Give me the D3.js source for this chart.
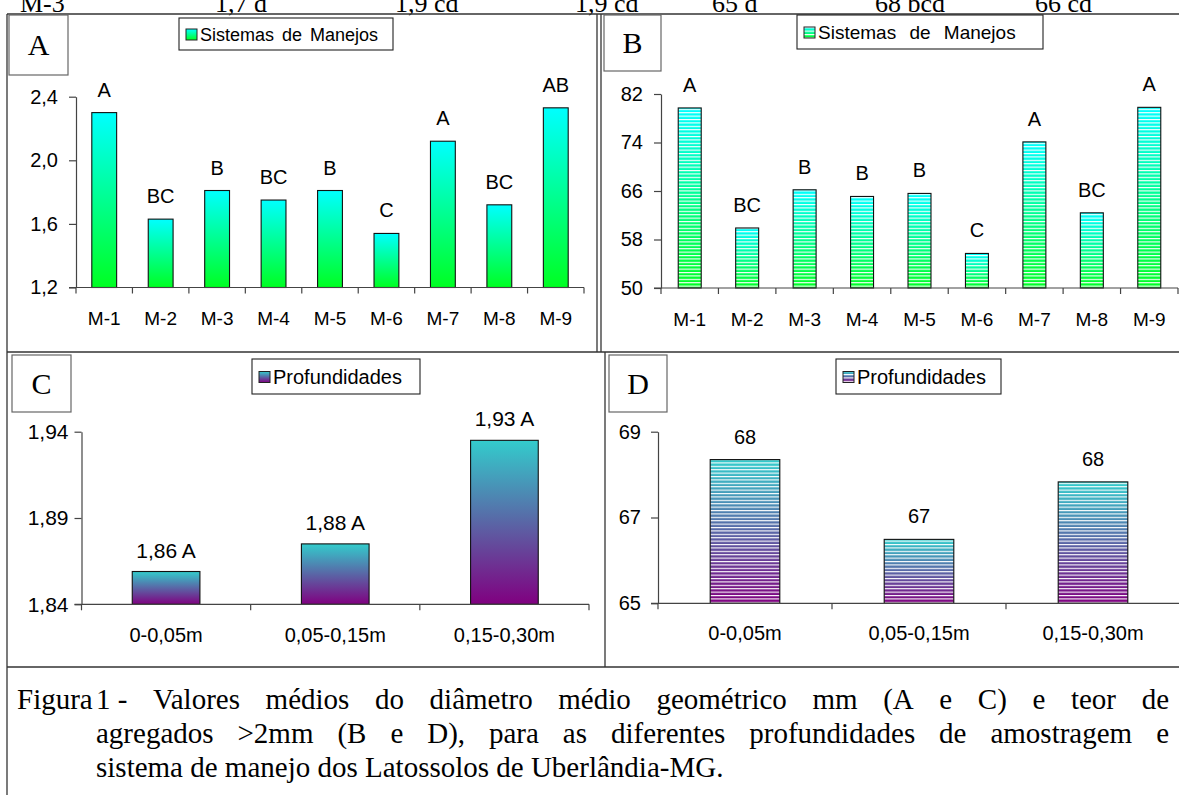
<!DOCTYPE html>
<html><head><meta charset="utf-8">
<script src="https://cdn.jsdelivr.net/npm/d3@7"></script>
<style>body{margin:0;background:#fff}svg{display:block}</style>
</head><body>
<svg id="c" width="1179" height="795"></svg>
<script>
// ---------- data ----------
const manejos = ["M-1","M-2","M-3","M-4","M-5","M-6","M-7","M-8","M-9"];
const dmgManejo = [2.30,1.63,1.81,1.75,1.81,1.54,2.12,1.72,2.33];
const dmgManejoLetras = ["A","BC","B","BC","B","C","A","BC","AB"];
const agrManejo = [79.7,59.9,66.2,65.1,65.6,55.7,74.1,62.4,79.8];
const agrManejoLetras = ["A","BC","B","B","B","C","A","BC","A"];
const profundidades = ["0-0,05m","0,05-0,15m","0,15-0,30m"];
const dmgProf = [1.859,1.875,1.935];
const dmgProfRotulos = ["1,86 A","1,88 A","1,93 A"];
const agrProf = [68.35,66.49,67.83];
const agrProfRotulos = ["68","67","68"];
const ticksA = [1.2,1.6,2.0,2.4];
const ticksB = [50,58,66,74,82];
const ticksC = [1.84,1.89,1.94];
const ticksD = [65,67,69];
const topoTextos = ["M-3","1,7 d","1,9 cd","1,9 cd","65 d","68 bcd","66 cd"];
const legendaManejo = "Sistemas de Manejos";
const legendaProf = "Profundidades";
const legendaLinha1a = "Figura";
const legendaLinha1b = "1\u00a0- Valores médios do diâmetro médio geométrico mm (A e C) e teor de";
const legendaLinha2 = "agregados >2mm (B e D), para as diferentes profundidades de amostragem e";
const legendaLinha3 = "sistema de manejo dos Latossolos de Uberlândia-MG.";

// ---------- setup ----------
const svg = d3.select("#c");
const SANS = "'Liberation Sans', Arial, sans-serif";
const SERIF = "'Liberation Serif', 'Times New Roman', serif";
const defs = svg.append("defs");
function vgrad(id, top, bot){
  const g = defs.append("linearGradient").attr("id",id).attr("x1",0).attr("y1",0).attr("x2",0).attr("y2",1);
  g.append("stop").attr("offset","0%").attr("stop-color",top);
  g.append("stop").attr("offset","100%").attr("stop-color",bot);
}
vgrad("gGreen","#00ffff","#00ff22");
vgrad("gPurple","#33cccc","#800080");
const pat = defs.append("pattern").attr("id","stripes").attr("patternUnits","userSpaceOnUse")
  .attr("width",8).attr("height",3.4);
pat.append("rect").attr("x",0).attr("y",0).attr("width",8).attr("height",1.1).attr("fill","#fff");

const fmt1 = d => d3.format(".1f")(d).replace(".",",");
const fmt2 = d => d3.format(".2f")(d).replace(".",",");

// top remnant text (cut by the frame)
const topX = [20,215,395,575,712,875,1035];
svg.append("g").selectAll("text").data(topoTextos).join("text")
  .attr("x",(d,i)=>topX[i]).attr("y",12)
  .attr("font-family",SERIF).attr("font-size",26).attr("fill","#000").text(d=>d);

// ---------- frames ----------
const frame = svg.append("g").attr("stroke","#333").attr("stroke-width",1.3).attr("fill","none");
frame.append("line").attr("x1",7).attr("y1",14).attr("x2",1179).attr("y2",14);
frame.append("line").attr("x1",7).attr("y1",14).attr("x2",7).attr("y2",795);
frame.append("line").attr("x1",597).attr("y1",14).attr("x2",597).attr("y2",352);
frame.append("line").attr("x1",601).attr("y1",14).attr("x2",601).attr("y2",352);
frame.append("line").attr("x1",7).attr("y1",352).attr("x2",1179).attr("y2",352);
frame.append("line").attr("x1",605).attr("y1",352).attr("x2",605).attr("y2",667);
frame.append("line").attr("x1",7).attr("y1",667).attr("x2",1179).attr("y2",667);

// ---------- panel drawing ----------
function panel(o){
  const g = svg.append("g");
  const x = d3.scaleBand().domain(o.cats).range([o.x0,o.x1]);
  const y = d3.scaleLinear().domain(o.domain).range([o.yb,o.yt]);
  const bw = x.bandwidth()*o.barFrac;
  const bars = g.append("g");
  o.values.forEach((v,i)=>{
    const bx = x(o.cats[i]) + (x.bandwidth()-bw)/2;
    const h = y(o.domain[0])-y(v);
    bars.append("rect").attr("x",bx).attr("y",y(v)).attr("width",bw).attr("height",h)
      .attr("fill",`url(#${o.grad})`);
    if(o.striped){
      bars.append("rect").attr("x",bx).attr("y",y(v)).attr("width",bw).attr("height",h)
        .attr("fill","url(#stripes)");
    }
    bars.append("rect").attr("x",bx).attr("y",y(v)).attr("width",bw).attr("height",h)
      .attr("fill","none").attr("stroke","#111").attr("stroke-width",1.1);
    g.append("text").attr("x",bx+bw/2).attr("y",y(v)-o.labOff)
      .attr("text-anchor","middle").attr("font-family",SANS).attr("font-size",o.labSize).text(o.labels[i]);
  });
  // y axis
  const ya = g.append("g").attr("transform",`translate(${o.x0},0)`)
    .call(d3.axisLeft(y).tickValues(o.ticks).tickFormat(o.fmt).tickSize(7).tickSizeOuter(0).tickPadding(o.tickPad));
  ya.selectAll("path,line").attr("stroke","#444").attr("stroke-width",1.2);
  ya.selectAll("text").attr("font-family",SANS).attr("font-size",o.tickSize).attr("fill","#000");
  // x axis line + boundary ticks
  g.append("line").attr("x1",o.x0-7).attr("x2",o.x1).attr("y1",o.yb).attr("y2",o.yb).attr("stroke","#444").attr("stroke-width",1.2);
  const bounds = o.cats.map(c=>x(c)).concat([o.x1]);
  g.selectAll(".bt").data(bounds).join("line").attr("x1",d=>d).attr("x2",d=>d)
    .attr("y1",o.yb).attr("y2",o.yb+6).attr("stroke","#444").attr("stroke-width",1.2);
  g.selectAll(".cl").data(o.cats).join("text").attr("x",d=>x(d)+x.bandwidth()/2).attr("y",o.catY)
    .attr("text-anchor","middle").attr("font-family",SANS).attr("font-size",o.catSize).text(d=>d);
  // legend
  const lg = svg.append("g");
  lg.append("rect").attr("x",o.leg[0]).attr("y",o.leg[1]).attr("width",o.leg[2]).attr("height",o.leg[3])
    .attr("fill","#fff").attr("stroke","#222").attr("stroke-width",1.1);
  const sx = o.leg[0]+7, sy = o.leg[1]+o.leg[3]/2-5;
  lg.append("rect").attr("x",sx).attr("y",sy).attr("width",11).attr("height",11).attr("fill",`url(#${o.grad})`);
  if(o.striped) lg.append("rect").attr("x",sx).attr("y",sy).attr("width",11).attr("height",11).attr("fill","url(#stripes)");
  lg.append("rect").attr("x",sx).attr("y",sy).attr("width",11).attr("height",11).attr("fill","none").attr("stroke","#222");
  const lt = lg.append("text").attr("x",sx+14).attr("y",o.leg[1]+o.leg[3]/2+7)
    .attr("font-family",SANS).attr("font-size",o.legSize).text(o.legText);
  if(o.legWord) lt.attr("word-spacing",o.legWord);
  // letter box
  svg.append("rect").attr("x",o.box[0]).attr("y",o.box[1]).attr("width",o.box[2]).attr("height",o.box[3])
    .attr("fill","#fff").attr("stroke","#666").attr("stroke-width",1.2);
  svg.append("text").attr("x",o.box[0]+o.box[2]/2).attr("y",o.box[1]+o.box[3]/2+10)
    .attr("text-anchor","middle").attr("font-family",SERIF).attr("font-size",30).text(o.letter);
}

panel({cats:manejos, values:dmgManejo, labels:dmgManejoLetras, domain:[1.2,2.4], ticks:ticksA, fmt:fmt1,
  x0:76, x1:584, yb:287.5, yt:96.7, barFrac:0.44, grad:"gGreen", striped:false, labOff:16, labSize:20,
  tickSize:20, tickPad:11, catY:325, catSize:19,
  leg:[179,18,214,32], legText:legendaManejo, legSize:18, legWord:3,
  box:[9,15,59,60], letter:"A"});
panel({cats:manejos, values:agrManejo, labels:agrManejoLetras, domain:[50,82], ticks:ticksB, fmt:d=>d,
  x0:661, x1:1178, yb:288, yt:94, barFrac:0.4, grad:"gGreen", striped:true, labOff:16, labSize:20,
  tickSize:20, tickPad:11, catY:326, catSize:19,
  leg:[797,15,246,34], legText:legendaManejo, legSize:19, legWord:8,
  box:[604,15,57,56], letter:"B"});
panel({cats:profundidades, values:dmgProf, labels:dmgProfRotulos, domain:[1.84,1.94], ticks:ticksC, fmt:fmt2,
  x0:81.5, x1:589, yb:604.3, yt:431.7, barFrac:0.4, grad:"gPurple", striped:false, labOff:14, labSize:21,
  tickSize:21, tickPad:6, catY:642, catSize:20,
  leg:[252,359,168,35], legText:legendaProf, legSize:20,
  box:[12,355,59,57], letter:"C"});
panel({cats:profundidades, values:agrProf, labels:agrProfRotulos, domain:[65,69], ticks:ticksD, fmt:d=>d,
  x0:658, x1:1180, yb:603.3, yt:431.7, barFrac:0.4, grad:"gPurple", striped:true, labOff:16, labSize:20,
  tickSize:20, tickPad:10, catY:640, catSize:20,
  leg:[836,359,165,35], legText:legendaProf, legSize:20,
  box:[609,355,58,57], letter:"D"});

// ---------- caption ----------
const cap = svg.append("g").attr("font-family",SERIF).attr("font-size",29).attr("fill","#000");
function justify(str, x0, x1, y){
  const words = str.split(" ");
  const nodes = words.map(w=>cap.append("text").attr("y",y).text(w));
  const widths = nodes.map(n=>n.node().getComputedTextLength());
  const total = d3.sum(widths);
  const gap = (x1-x0-total)/(words.length-1);
  let cx = x0;
  nodes.forEach((n,i)=>{ n.attr("x",cx); cx += widths[i]+gap; });
}
cap.append("text").attr("x",17).attr("y",709).text(legendaLinha1a);
justify(legendaLinha1b, 96, 1169, 709);
justify(legendaLinha2, 96, 1169, 743);
cap.append("text").attr("x",96).attr("y",777).text(legendaLinha3);
</script>
</body></html>
